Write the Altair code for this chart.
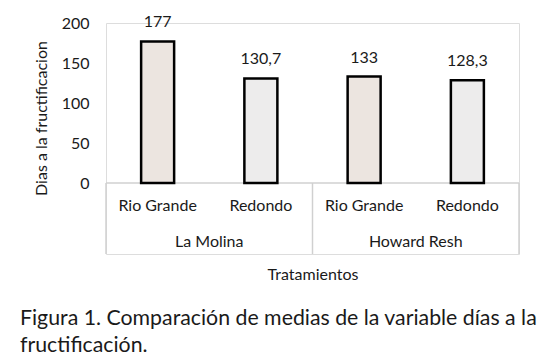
import altair as alt
import pandas as pd

groups = ["La Molina", "La Molina", "Howard Resh", "Howard Resh"]
varieties = ["Rio Grande", "Redondo", "Rio Grande", "Redondo"]
values = [177, 130.7, 133, 128.3]
value_labels = ["177", "130,7", "133", "128,3"]
fills = ["#ece5e0", "#edecec", "#ece5e0", "#edecec"]

FONT = "Lato"
TXT = "#1a1a1a"

pos = list(range(len(values)))
bars = pd.DataFrame({"pos": pos, "value": values, "label": value_labels,
                     "variety": varieties, "fill": fills})

# group extents computed from categories
group_names = []
for g in groups:
    if g not in group_names:
        group_names.append(g)
gstart = [pos[groups.index(g)] - 0.5 for g in group_names]
gend = [pos[len(groups) - 1 - groups[::-1].index(g)] + 0.5 for g in group_names]
gdf = pd.DataFrame({"group": group_names, "start": gstart, "end": gend,
                    "mid": [(a + b) / 2 for a, b in zip(gstart, gend)]})
seps = pd.DataFrame({"x": sorted(set(gstart + gend))})
base_line = pd.DataFrame({"x": [min(gstart)], "x2": [max(gend)]})

ymin = -88.75
xscale = alt.Scale(domain=[min(gstart), max(gend)], nice=False, zero=False, padding=0)
yscale = alt.Scale(domain=[ymin, 200], nice=False, zero=False, padding=0)

xaxis = alt.Axis(title="Tratamientos", labels=False, ticks=False, domain=False,
                 grid=False, titleFont=FONT, titleFontSize=16, titleFontWeight="normal",
                 titleColor=TXT, titlePadding=12)
yaxis = alt.Axis(title="Dias a la fructificacion", values=[0, 50, 100, 150, 200],
                 ticks=False, domain=False, grid=False, labelFont=FONT, labelFontSize=16,
                 labelColor=TXT, labelPadding=17, titleFont=FONT, titleFontSize=16,
                 titleFontWeight="normal", titleColor=TXT, titlePadding=12, titleY=95)

bar_layer = alt.Chart(bars).mark_bar(size=33, stroke="black", strokeWidth=2.5).encode(
    x=alt.X("pos:Q", scale=xscale, axis=xaxis),
    y=alt.Y("value:Q", scale=yscale, axis=yaxis),
    y2=alt.datum(0),
    fill=alt.Fill("fill:N", scale=None),
)

val_text = alt.Chart(bars).mark_text(font=FONT, fontSize=16, color=TXT,
                                     baseline="bottom", dy=-11).encode(
    x="pos:Q", y="value:Q", text="label:N")

hline = alt.Chart(base_line).mark_rule(color="#d0d0d0", strokeWidth=1.5).encode(
    x="x:Q", x2="x2:Q", y=alt.datum(0))

vlines = alt.Chart(seps).mark_rule(color="#d0d0d0", strokeWidth=1.5).encode(
    x="x:Q", y=alt.datum(0), y2=alt.datum(ymin))

var_text = alt.Chart(bars).mark_text(font=FONT, fontSize=16, color=TXT).encode(
    x="pos:Q", y=alt.datum(-29), text="variety:N")

grp_text = alt.Chart(gdf).mark_text(font=FONT, fontSize=16, color=TXT).encode(
    x="mid:Q", y=alt.datum(-74), text="group:N")

chart = alt.layer(hline, vlines, bar_layer, val_text, var_text, grp_text).properties(
    width=413, height=231,
    autosize=alt.AutoSizeParams(type="none"),
    padding={"left": 98, "top": 15, "right": 30, "bottom": 102},
    title=alt.TitleParams(
        text=["Figura 1. Comparación de medias de la variable días a la",
              "fructificación."],
        orient="bottom", anchor="start", frame="group", font=FONT, fontSize=21.3,
        fontWeight="normal", color=TXT, lineHeight=26.5, dx=-86, offset=26),
).configure_view(stroke=None).configure(background="white")

chart.save("out.html", embed_options={"renderer": "svg", "actions": False})
